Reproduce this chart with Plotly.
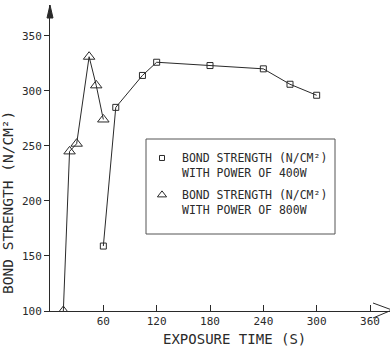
import plotly.graph_objects as go

x400 = [60, 74, 104, 120, 180, 240, 270, 300]
y400 = [159, 285, 314, 326, 323, 320, 306, 296]
x800 = [15, 22, 30, 44, 52, 60]
y800 = [100, 245, 252, 331, 305, 274]

xticks = [60, 120, 180, 240, 300, 360]
yticks = [100, 150, 200, 250, 300, 350]

name400 = "BOND STRENGTH (N/CM²)<br>WITH POWER OF 400W"
name800 = "BOND STRENGTH (N/CM²)<br>WITH POWER OF 800W"
xtitle = "EXPOSURE TIME (S)"
ytitle = "BOND STRENGTH (N/CM²)"

ink = "#2a2a2a"
mono = "DejaVu Sans Mono"

fig = go.Figure()
fig.add_trace(go.Scatter(x=x400, y=y400, mode="lines+markers", showlegend=False,
                         line=dict(color=ink, width=1),
                         marker=dict(symbol="square-open", size=6, color=ink, line=dict(width=1))))
fig.add_trace(go.Scatter(x=x800, y=y800, mode="lines+markers", showlegend=False,
                         line=dict(color=ink, width=1),
                         marker=dict(symbol="triangle-up-open", size=10, color=ink, line=dict(width=1))))
# legend-only entries (marker only)
fig.add_trace(go.Scatter(x=[None], y=[None], mode="markers", name=name400, legendgroup="a",
                         marker=dict(symbol="square-open", size=5, color=ink, line=dict(width=1))))
fig.add_trace(go.Scatter(x=[None], y=[None], mode="markers", name=name800, legendgroup="b",
                         marker=dict(symbol="triangle-up-open", size=8, color=ink, line=dict(width=1))))

W, H = 390, 348
L, R, T, B = 50, 0, 5, 37
pw, ph = W - L - R, H - T - B

def px(xp):
    return (xp - L) / pw

def py(yp):
    return (H - B - yp) / ph

fig.update_layout(
    width=W, height=H,
    margin=dict(l=L, r=R, t=T, b=B),
    paper_bgcolor="white", plot_bgcolor="white",
    font=dict(family=mono, size=11, color=ink),
    xaxis=dict(range=[0, 382.5], tickvals=xticks, ticks="inside", ticklen=6, tickcolor=ink,
               showline=True, linecolor=ink, linewidth=1, showgrid=False, zeroline=False,
               tickfont=dict(family=mono, size=11, color=ink)),
    yaxis=dict(range=[100, 378], tickvals=yticks, ticks="outside", ticklen=5, tickcolor=ink,
               showline=True, linecolor=ink, linewidth=1, showgrid=False, zeroline=False,
               tickfont=dict(family=mono, size=11, color=ink)),
    legend=dict(x=px(142), y=py(144), xanchor="left", yanchor="top",
                borderwidth=0, bgcolor="rgba(0,0,0,0)",
                font=dict(family=mono, size=11.5, color=ink), tracegroupgap=4, valign="top"),
    annotations=[
        dict(text=xtitle, xref="paper", yref="paper", x=px(234), y=py(339),
             xanchor="center", yanchor="middle", showarrow=False,
             font=dict(family=mono, size=14, color=ink)),
        dict(text=ytitle, xref="paper", yref="paper", x=px(8), y=py(203),
             xanchor="center", yanchor="middle", showarrow=False, textangle=-90,
             font=dict(family=mono, size=14.5, color=ink)),
    ],
    shapes=[
        dict(type="rect", xref="paper", yref="paper",
             x0=px(146), x1=px(335), y0=py(139), y1=py(234),
             line=dict(color="#555", width=1), fillcolor="rgba(0,0,0,0)"),
        dict(type="path", xref="paper", yref="paper",
             path=f"M {px(50)} {py(5)} L {px(47)} {py(18)} L {px(53)} {py(18)} Z",
             fillcolor=ink, line=dict(color=ink, width=1)),
        dict(type="path", xref="paper", yref="paper",
             path=f"M {px(373)} {py(303)} L {px(392)} {py(310)} L {px(373)} {py(318)}",
             line=dict(color=ink, width=1)),
    ],
)

fig.write_html("out.html")
